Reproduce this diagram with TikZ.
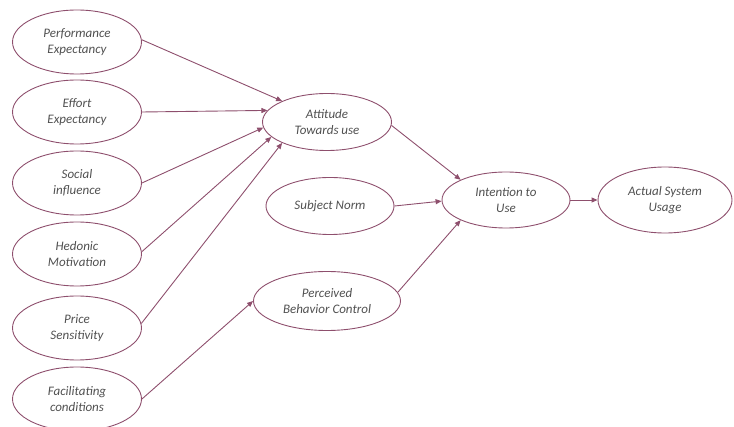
\documentclass[tikz,border=0pt]{standalone}
\usepackage{fontspec}
\setmainfont{Carlito}
\usetikzlibrary{shapes.geometric,arrows.meta}
\definecolor{edge}{HTML}{8E4F6D}
\definecolor{txt}{HTML}{505050}
\begin{document}
\begin{tikzpicture}[x=1pt,y=-1pt,
  oval/.style={ellipse,draw=edge,line width=0.9pt,inner sep=0pt,align=center,
    text=txt,font=\fontsize{13}{16}\selectfont\itshape},
  conn/.style={draw=edge,line width=0.9pt,-{Triangle[length=6pt,width=5pt]}}]
\useasboundingbox (0,0) rectangle (734,427);
\node[oval,minimum width=129pt,minimum height=64pt] (pe) at (77,42) {Performance\\Expectancy};
\node[oval,minimum width=129pt,minimum height=64pt] (ee) at (77,112) {Effort\\Expectancy};
\node[oval,minimum width=129pt,minimum height=64pt] (si) at (77,183) {Social\\influence};
\node[oval,minimum width=129pt,minimum height=64pt] (hm) at (77,254) {Hedonic\\Motivation};
\node[oval,minimum width=129pt,minimum height=64pt] (ps) at (77,328) {Price\\Sensitivity};
\node[oval,minimum width=129pt,minimum height=64pt] (fc) at (77,399) {Facilitating\\conditions};
\node[oval,minimum width=129pt,minimum height=57pt] (at) at (327,122) {Attitude\\Towards use};
\node[oval,minimum width=128pt,minimum height=57pt] (sn) at (330,206) {Subject Norm};
\node[oval,minimum width=147pt,minimum height=59pt] (pb) at (327,301) {Perceived\\Behavior Control};
\node[oval,minimum width=128pt,minimum height=56pt] (iu) at (506,200) {Intention to\\Use};
\node[oval,minimum width=134pt,minimum height=66pt] (au) at (665,200) {Actual System\\Usage};
\draw[conn] (pe.2) -- (at.155);
\draw[conn] (ee.east) -- (at.169);
\draw[conn] (si.east) -- (at.185);
\draw[conn] (hm.2) -- (at.195);
\draw[conn] (ps.4) -- (at.205);
\draw[conn] (fc.east) -- (pb.west);
\draw[conn] (at.-3) -- (iu.156);
\draw[conn] (sn.east) -- (iu.181);
\draw[conn] (pb.7) -- (iu.204);
\draw[conn] (iu.east) -- (au.west);
\end{tikzpicture}
\end{document}
